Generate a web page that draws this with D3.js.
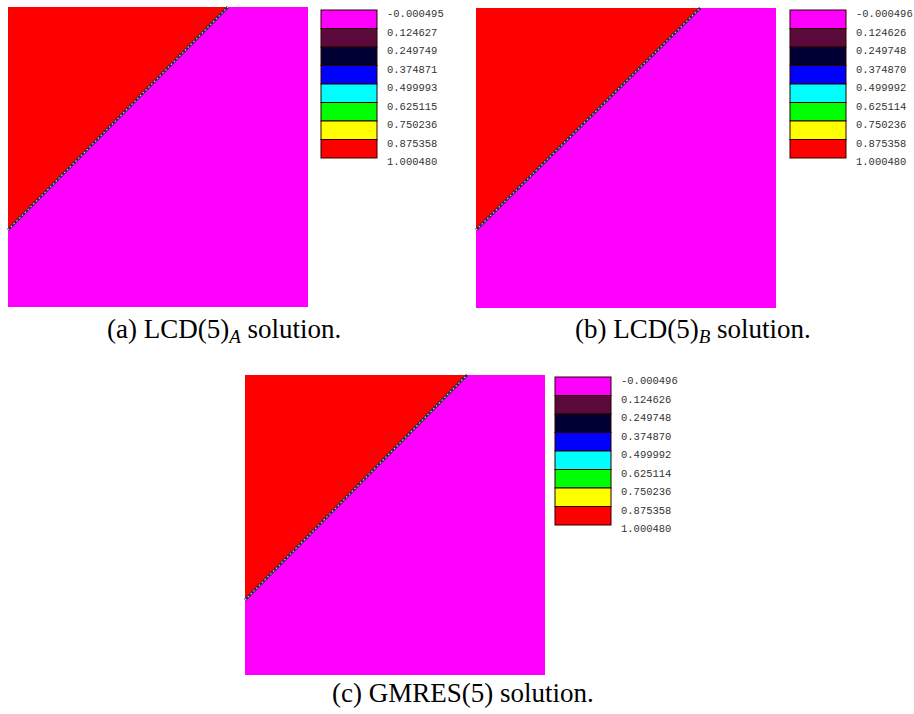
<!DOCTYPE html>
<html>
<head>
<meta charset="utf-8">
<script src="https://cdn.jsdelivr.net/npm/d3@7"></script>
<style>
  html, body { margin: 0; padding: 0; background: #fff; }
  svg { display: block; }
</style>
</head>
<body>
<svg id="fig" width="914" height="714"></svg>
<script>
// Contour band colours, from lowest to highest value
const bandColors = ["#ff00ff", "#5c0a3c", "#000033", "#0000ff", "#00ffff", "#00ff00", "#ffff00", "#ff0000"];

// Legend level labels for each solver
const levelsA = ["-0.000495", "0.124627", "0.249749", "0.374871", "0.499993", "0.625115", "0.750236", "0.875358", "1.000480"];
const levelsB = ["-0.000496", "0.124626", "0.249748", "0.374870", "0.499992", "0.625114", "0.750236", "0.875358", "1.000480"];
const levelsC = ["-0.000496", "0.124626", "0.249748", "0.374870", "0.499992", "0.625114", "0.750236", "0.875358", "1.000480"];

// Front location on the unit square: [left-edge y, top-edge x]
const frontA = [0.257, 0.733];
const frontB = [0.260, 0.747];
const frontC = [0.250, 0.740];

// Solution values on each side of the front
const valueUpper = [1.000480, 1.000480, 1.000480];
const valueLower = [-0.000495, -0.000496, -0.000496];

const captions = ["LCD(5)", "LCD(5)", "GMRES(5)"];
const captionTags = ["(a)", "(b)", "(c)"];
const captionSubs = ["A", "B", ""];

const panels = [
  { x: 8,   y: 7,   levels: levelsA, front: frontA, legX: 321, legY: 10,  capX: 107, capY: 338 },
  { x: 476, y: 8,   levels: levelsB, front: frontB, legX: 790, legY: 10,  capX: 575, capY: 338 },
  { x: 245, y: 375, levels: levelsC, front: frontC, legX: 555, legY: 377, capX: 332, capY: 702 }
];

const svg = d3.select("#fig");
const size = 300;

panels.forEach((p, i) => {
  const g = svg.append("g");
  const x = d3.scaleLinear().domain([0, 1]).range([p.x, p.x + size]);
  const y = d3.scaleLinear().domain([0, 1]).range([p.y + size, p.y]);
  const lo = +p.levels[0], hi = +p.levels[p.levels.length - 1];
  const color = d3.scaleQuantize().domain([lo, hi]).range(bandColors);

  // lower state fills the square
  g.append("rect")
    .attr("x", x(0)).attr("y", y(1))
    .attr("width", x(1) - x(0)).attr("height", y(0) - y(1))
    .attr("fill", color(valueLower[i]));

  // upper state: the region above the front
  const [y0, x1] = p.front;
  const upper = [[0, y0], [x1, 1], [0, 1]];
  g.append("path")
    .attr("d", d3.line().x(d => x(d[0])).y(d => y(d[1]))(upper) + "Z")
    .attr("fill", color(valueUpper[i]));

  // thin transition band along the front
  const frontLine = d3.line().x(d => x(d[0])).y(d => y(d[1]))([[0, y0], [x1, 1]]);
  g.append("path").attr("d", frontLine)
    .attr("stroke", "#2a2a55").attr("stroke-width", 2.6).attr("fill", "none");
  g.append("path").attr("d", frontLine)
    .attr("stroke", "#d8d0c0").attr("stroke-width", 1.1).attr("fill", "none")
    .attr("stroke-dasharray", "1.5,2.5");

  // legend
  const sh = 18.5, sw = 56;
  const leg = svg.append("g");
  leg.selectAll("rect").data(bandColors).join("rect")
    .attr("x", p.legX).attr("y", (d, k) => p.legY + k * sh)
    .attr("width", sw).attr("height", sh)
    .attr("fill", d => d)
    .attr("stroke", "#2a0000").attr("stroke-width", 1);
  leg.selectAll("text").data(p.levels).join("text")
    .attr("x", p.legX + sw + 10)
    .attr("y", (d, k) => p.legY + k * sh + 7)
    .attr("font-family", "'Liberation Mono', 'DejaVu Sans Mono', monospace")
    .attr("font-size", 10.5)
    .attr("fill", "#333")
    .text(d => d);

  // caption
  const t = svg.append("text")
    .attr("x", p.capX).attr("y", p.capY)
    .attr("font-family", "'Liberation Serif', 'Times New Roman', serif")
    .attr("font-size", 27).attr("fill", "#000");
  t.append("tspan").text(captionTags[i] + " " + captions[i]);
  if (captionSubs[i]) {
    t.append("tspan").attr("dy", 5).attr("font-size", 19).attr("font-style", "italic").text(captionSubs[i]);
    t.append("tspan").attr("dy", -5).text(" solution.");
  } else {
    t.append("tspan").text(" solution.");
  }
});
</script>
</body>
</html>
